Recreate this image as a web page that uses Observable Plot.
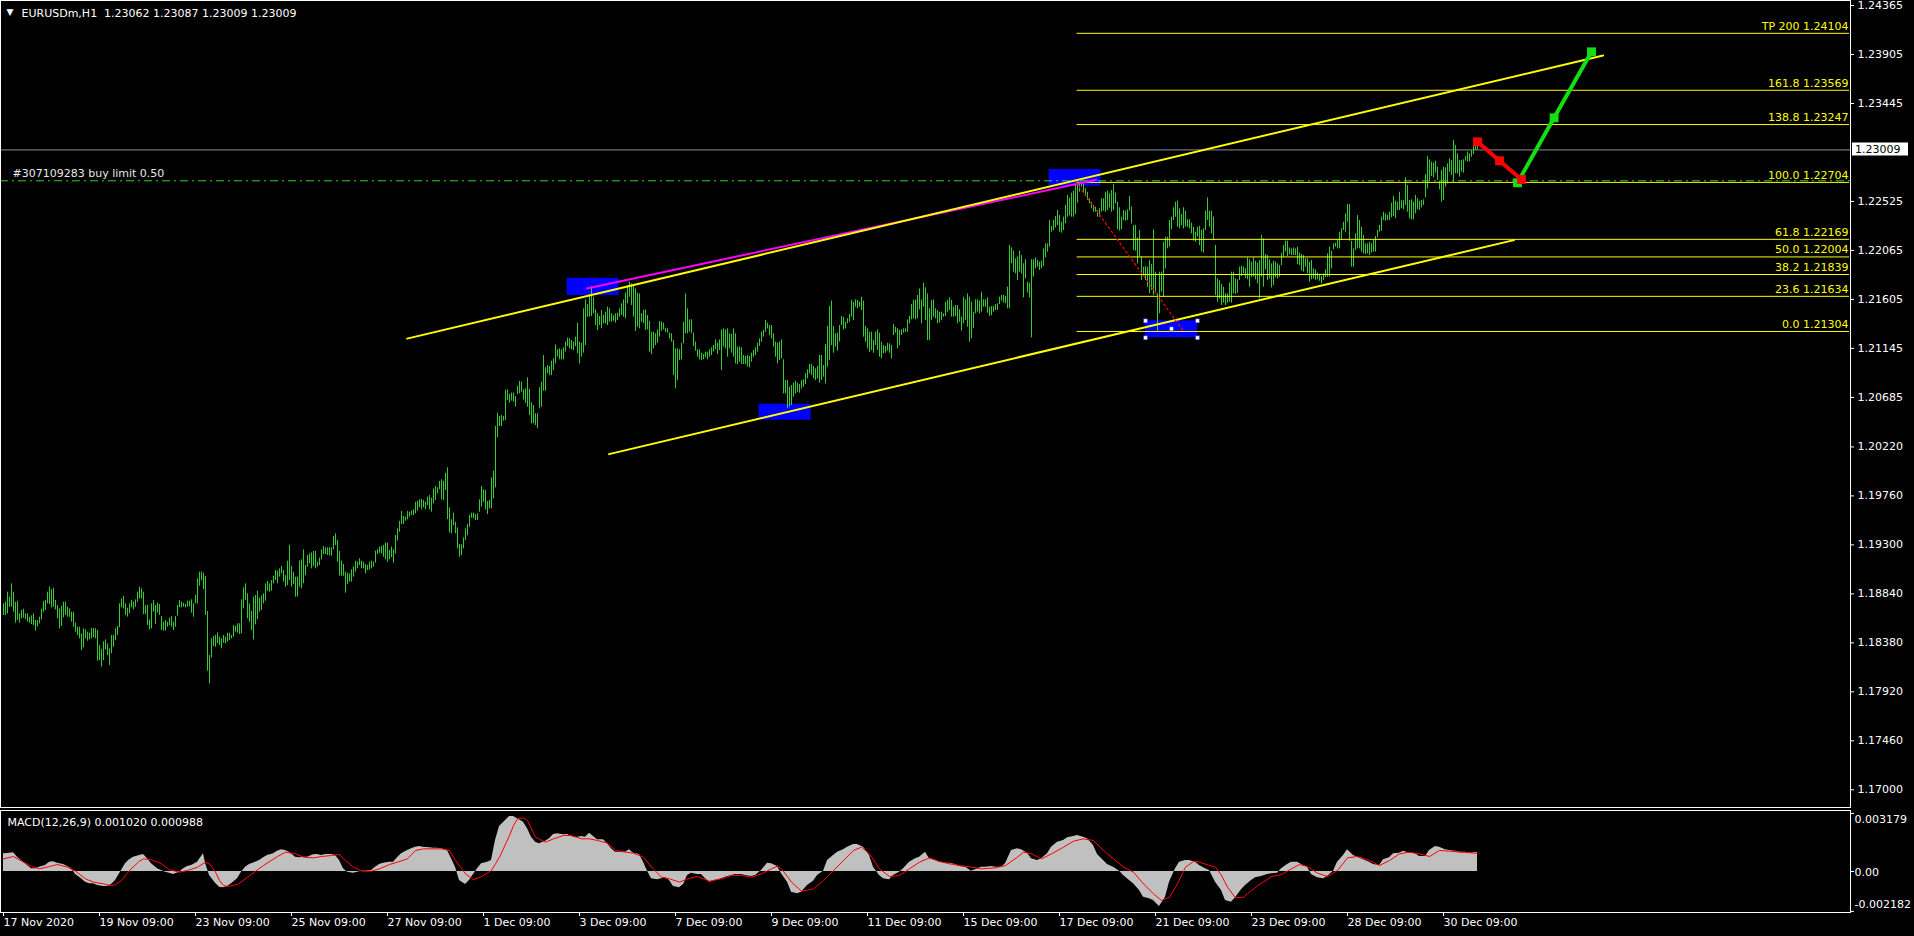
<!DOCTYPE html>
<html><head><meta charset="utf-8">
<script src="https://cdn.jsdelivr.net/npm/d3@7"></script>
<script src="https://cdn.jsdelivr.net/npm/@observablehq/plot@0.6"></script>
<style>
html,body{margin:0;padding:0;background:#000;}
#wrap{position:relative;width:1914px;height:936px;overflow:hidden;background:#000;}
#main{position:absolute;left:0;top:0;}
#macd{position:absolute;left:0;top:808px;}
</style></head><body><div id="wrap"><div id="main"></div><div id="macd"></div></div>
<script>
// ---- price bars (H1), values are price x 100000, one per bar, bar index = position ----
const highPts = [
118746,118762,118856,118809,118934,118856,118762,118768,118652,118684,
118696,118652,118652,118621,118634,118652,118590,118590,118621,118696,
118768,118778,118856,118903,118878,118890,118778,118728,118696,118724,
118762,118762,118715,118699,118668,118668,118565,118527,118527,118465,
118512,118502,118480,118471,118515,118515,118512,118496,118355,118317,
118390,118408,118371,118324,118449,118449,118512,118534,118746,118793,
118815,118746,118706,118746,118778,118762,118784,118856,118903,118887,
118856,118731,118731,118596,118746,118778,118731,118753,118740,118627,
118574,118590,118574,118612,118627,118574,118627,118731,118778,118762,
118753,118740,118771,118771,118784,118746,118825,118981,119044,119044,
119034,119003,118674,118261,118418,118440,118449,118474,118433,118418,
118449,118433,118471,118471,118449,118543,118534,118559,118559,118784,
118897,118934,118840,118746,118674,118809,118825,118865,118800,118821,
118840,118934,118956,118934,118965,119006,119059,119053,119075,119097,
119059,119012,119147,119294,119097,119044,118997,118997,119147,119160,
119253,119106,119200,119216,119225,119238,119238,119138,119175,119253,
119285,119272,119272,119272,119272,119379,119404,119341,119238,119147,
119116,119044,119034,119028,119066,119091,119147,119138,119169,119147,
119138,119116,119106,119138,119147,119138,119241,119253,119279,119285,
119294,119319,119316,119247,119279,119253,119388,119451,119520,119613,
119566,119560,119613,119607,119617,119629,119701,119710,119723,119726,
119717,119701,119748,119764,119739,119826,119848,119836,119895,119911,
119895,119973,120024,119648,119535,119598,119513,119460,119304,119300,
119366,119451,119491,119576,119598,119598,119585,119592,119723,119848,
119817,119811,119707,119717,119930,119992,120412,120537,120506,120515,
120506,120750,120756,120712,120725,120725,120693,120787,120834,
120828,120756,120765,120869,120759,120634,120609,120531,120531,120775,
120828,121078,120963,120984,120975,121025,121047,121179,121132,121141,
121132,121150,121204,121241,121235,121219,121204,121251,121382,121204,
121194,121517,121601,121557,121651,121726,121626,121507,121470,121445,
121501,121454,121485,121532,121517,121470,121454,121470,121476,121517,
121564,121601,121664,121736,121767,121751,121736,121704,121664,121657,
121470,121501,121507,121454,121398,121297,121297,121282,121319,121398,
121391,121382,121335,121329,121288,121282,121219,121141,121141,121132,
121194,121391,121657,121517,121413,121413,121288,121204,121132,121132,
121100,121088,121110,121110,121132,121150,121172,121225,121194,121225,
121319,121329,121319,121329,121282,121276,121329,121282,121157,121157,
121150,121078,121069,121078,121069,121100,121125,121150,121194,121235,
121297,121313,121407,121382,121360,121360,121282,121204,121194,121204,
121225,121038,120844,120844,120781,120797,120819,120837,120819,120806,
120844,120850,120906,120944,120994,120994,120975,120953,120975,121078,
121078,120984,121182,121351,121538,121589,121351,121282,121288,121360,
121445,121438,121391,121423,121463,121595,121579,121601,121595,121579,
121626,121589,121351,121329,121297,121297,121219,121297,121319,121288,
121204,121172,121163,121194,121188,121172,121369,121344,121329,121313,
121319,121329,121329,121413,121445,121557,121595,121601,121642,121704,
121601,121758,121714,121657,121517,121595,121601,121517,121501,121485,
121485,121470,121579,121595,121620,121595,121532,121548,121548,121507,
121438,121626,121601,121657,121626,121579,121485,121601,121601,121589,
121673,121601,121601,121620,121532,121538,121538,121557,121564,121626,
121642,121642,121632,121720,122111,122089,122058,121986,122002,122058,
122017,121939,121977,121767,121758,121977,121977,121995,121970,121955,
121964,122080,122127,122127,122346,122290,122346,122384,122440,122393,
122330,122377,122487,122581,122556,122603,122622,122675,122706,122690,
122706,122706,122643,122612,122550,122518,122487,122471,122440,122456,
122550,122550,122612,122622,122597,122628,122684,122603,122518,122465,
122377,122440,122434,122446,122572,122471,122299,122299,122183,122252,
122002,121908,121914,121908,121970,121933,122258,121861,121657,121861,
121861,122142,122190,122190,122346,122377,122465,122518,122528,122456,
122402,122465,122434,122352,122352,122321,122283,122236,122283,122290,
122252,122268,122434,122559,122434,122434,122377,122111,121798,121783,
121745,121720,121657,121657,121758,121861,121861,121798,121789,121908,
121914,121908,121892,121995,121977,121955,121995,121964,121945,121970,
122205,122174,122027,122017,121977,121939,121964,121955,121939,121923,
122039,122111,122152,122152,122089,122080,122089,122080,122096,122039,
122027,122017,121986,121986,121955,121970,121892,121883,121852,121839,
121820,121845,121883,122033,122096,122058,122127,122133,122165,122236,
122268,122330,122409,122496,122496,122152,122080,122221,122393,122346,
122283,122205,122127,122127,122142,122127,122158,122196,122252,122299,
122377,122424,122409,122393,122424,122509,122572,122528,122518,122612,
122534,122534,122747,122675,122534,122540,122518,122581,122550,122528,
122534,122540,122778,122947,122916,122894,122885,122903,122847,122715,
122816,122847,122841,122878,122925,122910,123097,123050,122972,122910,
122910,122916,122947,122988,122972,123003,123050,123066,123087
];
const lowPts = [
118637,118637,118652,118715,118715,118668,118565,118590,118565,118606,
118612,118596,118574,118565,118552,118543,118490,118527,118559,118596,
118668,118684,118746,118740,118709,118715,118690,118606,118512,118534,
118615,118637,118621,118621,118574,118527,118480,118449,118418,118308,
118333,118418,118396,118408,118418,118427,118418,118208,118214,118152,
118214,118314,118261,118167,118277,118339,118402,118449,118521,118709,
118699,118637,118621,118652,118709,118690,118715,118762,118793,118793,
118646,118646,118543,118502,118512,118668,118552,118659,118637,118496,
118490,118490,118527,118543,118527,118496,118527,118631,118709,118709,
118715,118709,118715,118721,118659,118621,118746,118746,118912,118965,
118881,118637,118114,117995,118239,118346,118339,118371,118355,118324,
118377,118371,118386,118402,118418,118433,118480,118471,118458,118465,
118699,118778,118606,118574,118496,118408,118549,118599,118668,118684,
118746,118771,118865,118856,118865,118934,118965,118934,118997,119028,
118950,118903,118919,118965,118903,118928,118809,118809,118903,118887,
118934,119012,119091,119122,119075,119097,119075,119091,119106,119160,
119207,119210,119200,119200,119194,119253,119294,119138,119006,119006,
119006,118847,118928,118950,118950,118997,119044,119075,119106,119075,
119075,119028,119059,119066,119075,119091,119128,119210,119222,119216,
119185,119160,119138,119160,119178,119128,119216,119335,119419,119491,
119491,119523,119535,119560,119576,119576,119592,119617,119648,119629,
119648,119629,119670,119629,119607,119685,119717,119779,119817,119723,
119717,119811,119538,119413,119404,119482,119404,119263,119185,119200,
119263,119341,119388,119466,119551,119545,119529,119529,119607,119654,
119701,119629,119585,119638,119638,119732,119836,120305,120412,120412,
120462,120468,120656,120631,120650,120640,120593,120712,120718,
120734,120662,120631,120593,120515,120437,120437,120421,120390,120578,
120593,120743,120743,120906,120891,120891,120938,121000,121063,121038,
121038,121038,121110,121163,121141,121132,121125,121163,121094,121000,
121063,121100,121172,121438,121438,121445,121470,121360,121313,121360,
121329,121376,121376,121360,121391,121391,121401,121382,121407,121438,
121454,121438,121423,121564,121626,121548,121438,121304,121344,121329,
121391,121376,121313,121319,121110,121088,121141,121172,121194,121251,
121307,121319,121297,121288,121235,121204,120891,120765,120844,121031,
121038,121188,121282,121282,121297,121282,121163,121119,121063,121038,
121031,121038,121056,121038,121063,121078,121110,121132,121088,121125,
120938,121157,121141,121063,121141,121100,121063,121000,120994,121016,
120994,120994,120994,120969,120963,121016,121063,121078,121110,121163,
121204,121251,121297,121329,121266,121235,121157,121063,121000,121031,
121047,120718,120718,120578,120593,120609,120687,120718,120734,120725,
120765,120781,120806,120859,120906,120891,120859,120844,120859,120819,
120844,120875,120812,120969,121031,121172,121100,121157,121119,121204,
121360,121319,121329,121376,121391,121438,121407,121532,121517,121532,
121501,121251,121204,121141,121110,121125,121100,121172,121125,121063,
121047,121094,121100,121119,121100,121047,121266,121288,121141,121172,
121266,121288,121297,121297,121376,121413,121423,121413,121423,121507,
121376,121532,121407,121219,121219,121407,121438,121423,121376,121382,
121407,121438,121445,121485,121501,121438,121438,121445,121376,121391,
121307,121376,121407,121344,121204,121235,121329,121470,121485,121470,
121485,121532,121532,121476,121445,121454,121485,121501,121501,121557,
121589,121570,121564,121517,121517,121939,121861,121845,121783,121861,
121845,121620,121798,121664,121620,121244,121814,121892,121908,121877,
121892,121914,121995,122049,122096,122236,122252,122277,122299,122236,
122227,122252,122315,122377,122393,122377,122377,122402,122509,122612,
122659,122603,122581,122534,122503,122456,122424,122424,122377,122377,
122424,122434,122424,122440,122465,122424,122440,122503,122258,122246,
122258,122346,122340,122346,122434,122315,122064,122058,121939,122002,
121783,121830,121783,121720,121657,121689,121642,121673,121297,121470,
121673,121626,121892,122080,122096,122258,122346,122377,122283,122268,
122299,122268,122283,122283,122268,122221,122152,122142,122190,122111,
122049,122039,122252,122346,122283,122221,122158,121642,121579,121610,
121548,121570,121548,121570,121579,121570,121657,121651,121664,121783,
121820,121845,121798,121789,121720,121808,121814,121789,121751,121610,
121814,121720,121883,121783,121798,121714,121736,121808,121798,121814,
121923,122002,122049,122008,122027,122017,122017,122017,121933,121923,
121870,121861,121908,121845,121767,121789,121798,121783,121789,121776,
121751,121783,121808,121814,121814,121892,122071,122096,122080,122080,
122158,122252,122236,122330,122152,121908,121908,122064,122080,122080,
122049,122033,122027,122033,122017,122039,122049,122049,122183,122236,
122246,122346,122340,122346,122346,122371,122384,122362,122440,122440,
122456,122446,122487,122424,122362,122352,122352,122409,122446,122440,
122465,122487,122559,122643,122715,122759,122747,122791,122722,122634,
122518,122534,122659,122690,122800,122769,122706,122784,122784,122753,
122800,122791,122903,122894,122894,122941,122966,123003,123009
];

// ---- MACD(12,26,9): [bar, value x 1e6] ----
const histPairs = [
[0,966],[3,1003],[5,1021],[7,784],[10,511],[12,328],[14,146],[16,146],[18,237],[21,328],
[23,511],[25,529],[27,456],[30,383],[32,274],[34,146],[36,-164],[39,-401],[41,-584],[43,-675],
[45,-675],[47,-766],[50,-821],[52,-821],[54,-711],[56,-492],[59,55],[61,419],[63,638],[65,784],
[68,875],[70,930],[72,693],[74,419],[77,146],[79,55],[81,-36],[83,-91],[85,-164],[88,-36],
[90,146],[92,274],[94,328],[97,511],[99,821],[100,966],[101,456],[103,-219],[106,-638],[108,-857],
[110,-894],[112,-821],[114,-675],[117,-401],[119,-36],[121,237],[123,383],[126,511],[128,602],[130,748],
[132,875],[135,966],[137,1112],[139,1185],[141,1149],[143,1058],[146,784],[148,748],[150,784],[152,784],
[155,912],[157,930],[159,875],[161,930],[164,930],[166,875],[168,602],[170,146],[172,-36],[175,-91],
[177,-36],[179,18],[181,18],[184,55],[186,237],[188,383],[190,456],[193,511],[195,511],[197,748],
[199,966],[202,1149],[204,1240],[206,1331],[208,1368],[210,1331],[213,1295],[215,1276],[217,1276],[219,1240],
[222,1149],[224,693],[226,237],[228,-492],[231,-711],[233,-492],[235,-164],[237,146],[239,419],[242,511],
[244,602],[246,1696],[248,2462],[251,2790],[253,3009],[255,3009],[257,2881],[260,2699],[262,2334],[264,1878],
[266,1605],[268,1514],[271,1659],[273,1787],[275,2024],[277,2061],[280,2006],[282,2024],[284,1915],[286,1842],
[289,1915],[291,1878],[293,2097],[295,1915],[297,1732],[300,1732],[302,1514],[304,1240],[306,1058],[309,1058],
[311,1058],[313,1185],[315,1003],[318,930],[320,511],[322,18],[324,-401],[327,-456],[329,-401],[331,-346],
[333,-492],[335,-821],[338,-894],[340,-711],[342,-219],[344,-91],[347,-164],
[349,-164],[351,-401],[353,-584],[356,-492],[359,-401],[361,-310],[364,-219],[366,-164],[369,-164],[371,-219],
[374,-274],[376,-219],[379,55],[382,456],[384,419],[387,274],[389,-128],[392,-584],[394,-1131],[397,-1222],
[399,-1131],[402,-766],[405,-529],[407,-219],[410,18],[412,602],[415,875],[417,1058],[420,1185],[422,1331],
[425,1477],[427,1477],[430,1331],[433,875],[435,237],[438,-219],[440,-401],[443,-456],[445,-219],[448,-36],
[450,146],[453,511],[456,693],[458,784],[461,1058],[463,693],[466,602],[468,511],[471,456],[473,456],
[476,383],[478,274],[481,237],[484,18],[486,91],[489,237],[491,237],[494,274],[496,237],[499,237],
[501,419],[504,1149],[507,1240],[509,1185],[512,1003],[514,693],[517,602],[519,693],[522,966],[524,1331],
[527,1605],[530,1696],[532,1842],[535,1915],[537,1969],[540,1878],[542,1787],[545,1422],[547,930],[550,602],
[552,383],[555,237],[558,18],[560,-219],[563,-492],[565,-675],[568,-1039],[570,-1404],[573,-1495],[575,-1586],
[578,-1915],[581,-1404],[583,-584],[586,146],[588,511],[591,602],[593,602],[596,511],[598,328],[601,146],
[603,55],[606,-584],[609,-1039],[611,-1586],[614,-1678],[616,-1441],[619,-1003],[621,-766],[624,-492],[626,-346],
[629,-274],[632,-164],[634,-128],[637,-91],[639,146],[642,383],[644,511],[647,511],[649,383],[652,237],
[654,-164],[657,-346],[660,-401],[662,-274],[665,18],[667,511],[670,875],[672,1185],[675,875],[677,784],
[680,638],[683,511],[685,383],[688,328],[690,638],[693,748],[695,966],[698,1003],[700,1112],[703,1003],
[706,966],[708,821],[711,821],[713,1149],[716,1368],[718,1331],[721,1185],[723,1149],[726,1112],[728,1058],
[731,1058],[734,1003],[736,1058],[737,1020]
];
const signalPairs = [
[0,693],[5,821],[10,511],[14,274],[18,146],[23,274],[27,383],[32,237],[36,18],[41,-401],
[45,-584],[50,-675],[54,-784],[56,-711],[59,-492],[63,55],[68,565],[70,693],[74,638],[79,419],
[83,91],[88,-36],[92,55],[97,237],[101,511],[103,419],[106,-36],[108,-492],[110,-766],[112,-821],
[117,-711],[121,-401],[126,18],[130,328],[137,821],[141,1058],[146,966],[150,784],[155,748],[159,821],
[164,875],[168,930],[170,693],[175,237],[179,18],[184,18],[188,146],[193,383],[197,511],[202,693],
[206,1149],[210,1240],[215,1240],[219,1240],[223,1149],[226,602],[231,-128],[235,-456],[239,-274],[244,55],
[248,784],[253,1969],[255,2516],[257,2881],[260,2936],[262,2790],[264,2334],[266,1878],[271,1605],[275,1787],
[280,1969],[284,1969],[289,1787],[293,1787],[297,1696],[302,1550],[306,1149],[311,1058],[315,1003],[320,784],
[324,237],[329,-310],[333,-401],[338,-584],[342,-401],[347,-274],
[353,-529],[359,-401],[364,-219],[369,-219],[374,-310],[379,-128],[384,146],[387,292],[389,146],[394,-584],
[399,-1076],[405,-948],[410,-492],[415,55],[420,602],[425,1149],[429,1331],[433,966],[438,146],[443,-274],
[448,-219],[453,146],[458,511],[463,748],[468,547],[473,419],[478,328],[484,237],[489,146],[496,201],
[501,328],[507,784],[510,1058],[514,966],[519,693],[524,966],[530,1331],[535,1659],[540,1787],[545,1696],
[550,1149],[555,693],[560,237],[565,-36],[570,-675],[575,-1222],[579,-1586],[583,-1404],[587,-675],[591,237],
[595,547],[598,511],[603,328],[606,237],[609,-219],[612,-857],[616,-1441],[620,-1404],[624,-1039],[629,-638],
[634,-274],[639,-164],[644,146],[648,383],[652,274],[657,-91],[662,-274],[667,55],[672,748],[677,821],
[683,602],[688,328],[693,602],[698,966],[703,1058],[708,966],[713,821],[718,1149],[723,1112],[728,1058],
[734,1021],[737,988]
];

// ---- axis ticks ----
const priceTicks = [1.24365,1.23905,1.23445,1.22525,1.22065,1.21605,1.21145,1.20685,1.20220,1.19760,1.19300,1.18840,1.18380,1.17920,1.17460,1.17000];
const dateTickBars = [0,48,96,144,192,240,288,336,384,432,480,528,576,624,672,720];
const dateLabels = ["17 Nov 2020","19 Nov 09:00","23 Nov 09:00","25 Nov 09:00","27 Nov 09:00","1 Dec 09:00","3 Dec 09:00","7 Dec 09:00","9 Dec 09:00","11 Dec 09:00","15 Dec 09:00","17 Dec 09:00","21 Dec 09:00","23 Dec 09:00","28 Dec 09:00","30 Dec 09:00"];
const macdTicks = [0.003179, 0, -0.002182];
const macdTickLabels = ["0.003179", "0.00", "-0.002182"];

// ---- Fibonacci retracement ----
const fibLevels = ["TP 200","161.8","138.8","100.0","61.8","50.0","38.2","23.6","0.0"];
const fibPrices = [1.24104,1.23569,1.23247,1.22704,1.22169,1.22004,1.21839,1.21634,1.21304];
const fibStartBar = 536.8;
const fibTrendBars = [536.3, 590.1];
const fibTrendPrices = [1.22704, 1.21304];

// ---- channel and trend lines ----
const upperChannelBars = [201.8, 799.8];
const upperChannelPrices = [1.21237, 1.23896];
const lowerChannelBars = [302.8, 755.2];
const lowerChannelPrices = [1.20152, 1.22162];
const magentaBars = [291.7, 546.3];
const magentaPrices = [1.21708, 1.22728];

// ---- blue rectangles ----
const rectStartBars = [281.8, 377.8, 522.8, 571.0];
const rectEndBars = [307.8, 403.8, 548.8, 597.0];
const rectTopPrices = [1.21804, 1.20621, 1.22825, 1.21404];
const rectBottomPrices = [1.21642, 1.20471, 1.22668, 1.21245];
const handleBars = [571, 597, 571, 597, 584];
const handlePrices = [1.21404, 1.21404, 1.21245, 1.21245, 1.21329];

// ---- projected path ----
const redBars = [737, 748, 759];
const redPrices = [1.23085, 1.22907, 1.22731];
const greenBars = [757, 775.3, 794];
const greenPrices = [1.22700, 1.23310, 1.23930];

const lastPrice = 1.23009;
const buyLimitPrice = 1.22719;
const orderLabel = "#307109283 buy limit 0.50";
const titleText = "EURUSDm,H1\u00a0\u00a01.23062 1.23087 1.23009 1.23009";
const macdLabel = "MACD(12,26,9) 0.001020 0.000988";

// ---- build tables ----
const bars = highPts.map((h, i) => ({i, high: h / 1e5, low: lowPts[i] / 1e5}));
const zip = (bs, ps) => bs.map((b, i) => ({bar: b, price: ps[i]}));
const fibData = fibPrices.map((p, i) => ({price: p, start: fibStartBar, end: 923, label: fibLevels[i] + " " + p.toFixed(5)}));
const rects = rectStartBars.map((b, i) => ({x1: b, x2: rectEndBars[i], y1: rectBottomPrices[i], y2: rectTopPrices[i]}));
const hist = histPairs.map(([b, v]) => ({bar: b, value: v / 1e6}));
const signal = signalPairs.map(([b, v]) => ({bar: b, value: v / 1e6}));
const labelByBar = new Map(dateTickBars.map((b, i) => [b, dateLabels[i]]));

const FONT = "'DejaVu Sans', Verdana, sans-serif";
const xScale = {type: "linear", domain: [0, 923], range: [3, 1849], axis: null};

const mainPlot = Plot.plot({
  width: 1914, height: 808,
  marginTop: 0, marginRight: 64, marginBottom: 0, marginLeft: 0,
  style: {background: "#000", color: "#fff", fontFamily: FONT, fontSize: "11px"},
  x: xScale,
  y: {type: "linear", domain: [1.168245, 1.244120], range: [808, 0], axis: null},
  marks: [
    Plot.rect(rects, {x1: "x1", x2: "x2", y1: "y1", y2: "y2", fill: "#0000ff"}),
    Plot.ruleY([lastPrice], {y: d => d, stroke: "#8a8f99", strokeWidth: 1}),
    Plot.ruleX(bars, {x: "i", y1: "low", y2: "high", stroke: "#32cd32", strokeWidth: 1}),
    Plot.ruleY([buyLimitPrice], {y: d => d, stroke: "#32cd32", strokeWidth: 1, strokeDasharray: "8,4,2,4"}),
    Plot.text([orderLabel], {frameAnchor: "left", y: () => buyLimitPrice, text: d => d, dx: 12, dy: -7, textAnchor: "start", lineAnchor: "middle", fill: "#e8e8e8", fontSize: 11}),
    Plot.ruleY(fibData, {y: "price", x1: "start", x2: "end", stroke: "#ffff00", strokeWidth: 1}),
    Plot.text(fibData, {x: "end", y: "price", text: "label", textAnchor: "end", lineAnchor: "middle", dx: -1, dy: -7, fill: "#ffff00", fontSize: 11}),
    Plot.line(zip(magentaBars, magentaPrices), {x: "bar", y: "price", stroke: "#ff00ff", strokeWidth: 2}),
    Plot.line(zip(upperChannelBars, upperChannelPrices), {x: "bar", y: "price", stroke: "#ffff00", strokeWidth: 2}),
    Plot.line(zip(lowerChannelBars, lowerChannelPrices), {x: "bar", y: "price", stroke: "#ffff00", strokeWidth: 2}),
    Plot.line(zip(fibTrendBars, fibTrendPrices), {x: "bar", y: "price", stroke: "#ff0000", strokeWidth: 1.2, strokeDasharray: "2,3"}),
    Plot.dot(zip(handleBars, handlePrices), {x: "bar", y: "price", symbol: "square", r: 2.3, fill: "#fff", stroke: "#0000ff", strokeWidth: 0.5}),
    Plot.line(zip(greenBars, greenPrices), {x: "bar", y: "price", stroke: "#12e012", strokeWidth: 4}),
    Plot.dot(zip(greenBars, greenPrices), {x: "bar", y: "price", symbol: "square", r: 5, fill: "#12e012"}),
    Plot.line(zip(redBars, redPrices), {x: "bar", y: "price", stroke: "#ff0000", strokeWidth: 4}),
    Plot.dot(zip(redBars, redPrices), {x: "bar", y: "price", symbol: "square", r: 5, fill: "#ff0000"}),
    Plot.frame({stroke: "#fff", inset: 0, insetBottom: 1}),
    Plot.axisY(priceTicks, {anchor: "right", tickSize: 3, tickPadding: 4, tickFormat: d => d.toFixed(5), stroke: "#fff", fill: "#fff", fontSize: 11, label: null}),
    Plot.text(["\u25BC"], {frameAnchor: "top-left", text: d => d, dx: 6, dy: 12, lineAnchor: "middle", textAnchor: "start", fill: "#fff", fontSize: 9}),
    Plot.text([titleText], {frameAnchor: "top-left", text: d => d, dx: 21, dy: 12.5, lineAnchor: "middle", textAnchor: "start", fill: "#fff", fontSize: 11})
  ]
});
document.getElementById("main").appendChild(mainPlot);

// current price tag on the price axis
{
  const yPos = mainPlot.scale("y").apply(lastPrice);
  const svg = d3.select(mainPlot.tagName.toLowerCase() === "svg" ? mainPlot : mainPlot.querySelector("svg"));
  const g = svg.append("g").attr("text-anchor", "start");
  g.append("rect").attr("x", 1852).attr("y", Math.round(yPos) - 6.5).attr("width", 56).attr("height", 13).attr("fill", "#fff");
  g.append("text").attr("x", 1855).attr("y", yPos).attr("dy", "0.36em").attr("fill", "#000")
    .attr("text-anchor", "start").attr("font-size", 11).attr("font-family", FONT).text(lastPrice.toFixed(5));
}

const macdPlot = Plot.plot({
  width: 1914, height: 128,
  marginTop: 2, marginRight: 64, marginBottom: 23, marginLeft: 0,
  style: {background: "#000", color: "#fff", fontFamily: FONT, fontSize: "11px"},
  x: xScale,
  y: {type: "linear", domain: [-0.002298, 0.003337], range: [105, 2], axis: null},
  marks: [
    Plot.areaY(hist, {x: "bar", y: "value", fill: "#c0c0c0"}),
    Plot.line(signal, {x: "bar", y: "value", stroke: "#ff0000", strokeWidth: 1}),
    Plot.frame({stroke: "#fff", inset: 0, insetBottom: 1}),
    Plot.axisX(dateTickBars, {anchor: "bottom", tickSize: 3, tickPadding: 2, tickFormat: d => labelByBar.get(d), textAnchor: "start", dx: 0, stroke: "#fff", fill: "#fff", fontSize: 11, label: null}),
    Plot.axisY(macdTicks, {anchor: "right", tickSize: 3, tickFormat: () => "", stroke: "#fff", label: null}),
    Plot.text([macdTickLabels[0]], {frameAnchor: "right", y: () => macdTicks[0], text: d => d, dx: 4, dy: 6, textAnchor: "start", lineAnchor: "middle", fill: "#fff", fontSize: 11}),
    Plot.text([macdTickLabels[1]], {frameAnchor: "right", y: () => macdTicks[1], text: d => d, dx: 4, dy: 1, textAnchor: "start", lineAnchor: "middle", fill: "#fff", fontSize: 11}),
    Plot.text([macdTickLabels[2]], {frameAnchor: "right", y: () => macdTicks[2], text: d => d, dx: 4, dy: -6.5, textAnchor: "start", lineAnchor: "middle", fill: "#fff", fontSize: 11}),
    Plot.text([macdLabel], {frameAnchor: "top-left", text: d => d, dx: 7, dy: 12, lineAnchor: "middle", textAnchor: "start", fill: "#fff", fontSize: 11})
  ]
});
document.getElementById("macd").appendChild(macdPlot);
</script></body></html>
